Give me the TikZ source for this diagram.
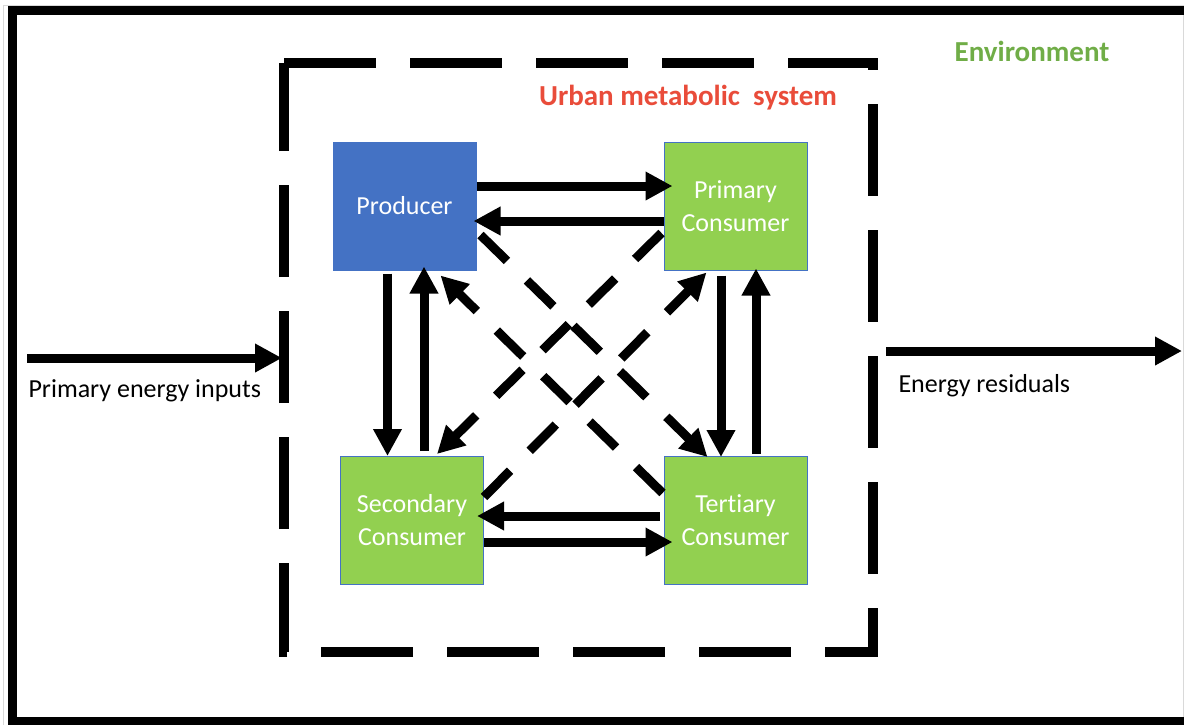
\documentclass[tikz,border=0pt]{standalone}
\usepackage{fontspec}
\setmainfont{Carlito}[Ligatures=NoCommon]
\usetikzlibrary{arrows.meta}

\definecolor{boxblue}{RGB}{68,114,196}
\definecolor{boxgreen}{RGB}{146,208,80}
\definecolor{envgreen}{RGB}{112,173,71}
\definecolor{sysred}{RGB}{233,76,58}

\tikzset{
  box/.style={draw=boxblue, line width=1pt, minimum width=143pt, minimum height=128pt,
    inner sep=0pt, text=white, align=center, font=\fontsize{26}{33}\selectfont},
  flow/.style={line width=9pt, -{Triangle[length=27pt,width=27pt]}},
  crossflow/.style={flow, dash pattern=on 37pt off 28pt},
  sidetext/.style={anchor=base west, font=\fontsize{26}{31}\selectfont},
  title/.style={anchor=base, font=\bfseries\fontsize{29}{35}\selectfont}
}

\begin{document}
\begin{tikzpicture}[x=1pt, y=-1pt]

    \useasboundingbox (0,0) rectangle (1184,724);

    % environment
    \draw[gray!30, line width=1pt] (3,5) rectangle (1183,730);
    \draw[line width=9pt] (1190,10.5) -- (12.5,10.5) -- (12.5,721.5) -- (1190,721.5);
    \node[title, text=envgreen] (env) at (1032,61) {Environment};

    % urban metabolic system
    \draw[line width=10pt, dash pattern=on 92pt off 34pt]
      (284,63) -- (873,63) -- (873,652) -- (284,652) -- cycle;
    \node[title, text=sysred] (system) at (688,105) {Urban metabolic~ system};

    \node[box, fill=boxblue] (prod) at (404.5,206) {Producer};
    \node[box, fill=boxgreen] (prim) at (735.5,206) {Primary\\Consumer};
    \node[box, fill=boxgreen] (sec) at (412,520.5) {Secondary\\Consumer};
    \node[box, fill=boxgreen] (tert) at (735.5,520.5) {Tertiary\\Consumer};

    % flows between the boxes
    \draw[flow] ([yshift=20pt]prod.east) -- ([xshift=9pt,yshift=20pt]prim.west);
    \draw[flow] ([yshift=-15pt]prim.west) -- ([xshift=-3pt,yshift=-15pt]prod.east);
    \draw[flow] ([xshift=-17pt,yshift=-3pt]prod.south) -- ([xshift=-24.5pt]sec.north);
    \draw[flow] ([xshift=12pt,yshift=5pt]sec.north) -- ([xshift=19.5pt,yshift=4pt]prod.south);
    \draw[flow] ([xshift=-14.5pt,yshift=-5pt]prim.south) -- ([xshift=-14.5pt,yshift=-1pt]tert.north);
    \draw[flow] ([xshift=20.5pt,yshift=2pt]tert.north) -- ([xshift=20.5pt,yshift=2pt]prim.south);
    \draw[flow] ([xshift=-4pt,yshift=4.5pt]tert.west) -- ([xshift=-7pt,yshift=4.5pt]sec.east);
    \draw[flow] ([yshift=-21.5pt]sec.east) -- ([xshift=9pt,yshift=-21.5pt]tert.west);

    % cross flows
    \draw[crossflow] ([xshift=4pt,yshift=-29pt]prod.east) -- ([xshift=44pt,yshift=-1pt]tert.north west);
    \draw[crossflow] ([xshift=-1pt,yshift=27.5pt]tert.west) -- ([xshift=-36pt,yshift=-5pt]prod.south east);
    \draw[crossflow] ([xshift=-2pt,yshift=-27pt]prim.west) -- ([xshift=-47pt,yshift=2pt]sec.north east);
    \draw[crossflow] ([yshift=23.5pt]sec.east) -- ([xshift=43pt,yshift=-2pt]prim.south west);

    % inputs and residuals
    \coordinate (inA) at (27,358);
    \coordinate (inB) at (282,358);
    \draw[flow] (inA) -- (inB);
    \node[sidetext] (inputs) at (25,397) {Primary energy inputs};

    \coordinate (outA) at (886,351);
    \coordinate (outB) at (1182,351);
    \draw[flow] (outA) -- (outB);
    \node[sidetext] (residuals) at (895,392) {Energy residuals};

\end{tikzpicture}
\end{document}
